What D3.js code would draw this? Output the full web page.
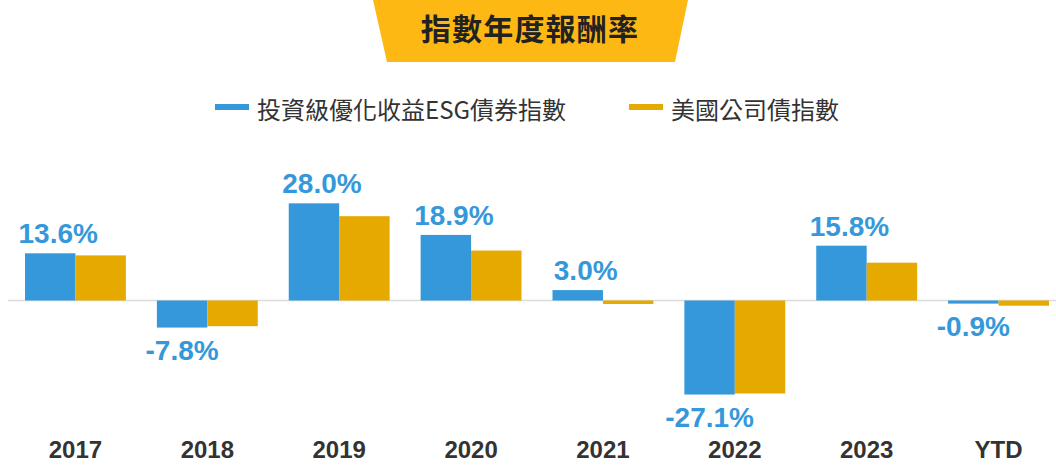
<!DOCTYPE html>
<html>
<head>
<meta charset="utf-8">
<script src="https://cdn.jsdelivr.net/npm/d3@7"></script>
<style>
  html, body { margin: 0; padding: 0; background: #fff; }
  svg { display: block; }
</style>
</head>
<body>
<svg id="chart" width="1056" height="467"></svg>
<script>
const title = "指數年度報酬率";
const categories = ["2017", "2018", "2019", "2020", "2021", "2022", "2023", "YTD"];
const seriesNames = ["投資級優化收益ESG債券指數", "美國公司債指數"];
const esgValues = [13.6, -7.8, 28.0, 18.9, 3.0, -27.1, 15.8, -0.9];
const corpValues = [13.0, -7.4, 24.3, 14.4, -1.0, -26.8, 10.9, -1.5];
const valueLabels = ["13.6%", "-7.8%", "28.0%", "18.9%", "3.0%", "-27.1%", "15.8%", "-0.9%"];
const colors = ["#3598DA", "#E5A900"];

const svg = d3.select("#chart");
const W = 1056, H = 467;

// Title banner (trapezoid)
const bannerTop = 0, bannerBottom = 62;
svg.append("path")
  .attr("d", `M373,${bannerTop} L688,${bannerTop} L675,${bannerBottom} L387,${bannerBottom} Z`)
  .attr("fill", "#FDB813");
svg.append("text")
  .attr("x", 530).attr("y", 27)
  .attr("text-anchor", "middle")
  .attr("dominant-baseline", "central")
  .attr("font-family", "'Noto Sans CJK TC', 'Noto Sans CJK SC', sans-serif")
  .attr("font-weight", 700)
  .attr("font-size", 30)
  .attr("letter-spacing", 1.2)
  .attr("fill", "#222")
  .text(title);

// Legend
const legendItems = [
  { name: seriesNames[0], color: colors[0], x: 215 },
  { name: seriesNames[1], color: colors[1], x: 629 }
];
const lg = svg.append("g");
legendItems.forEach(it => {
  lg.append("rect").attr("x", it.x).attr("y", 104).attr("width", 34).attr("height", 6).attr("fill", it.color);
  lg.append("text")
    .attr("x", it.x + 42).attr("y", 108)
    .attr("dominant-baseline", "central")
    .attr("font-family", "'Noto Sans CJK TC', 'Noto Sans CJK SC', sans-serif")
    .attr("font-size", 24)
    .attr("fill", "#333")
    .text(it.name);
});

// Scales
const x0 = d3.scaleBand().domain(categories).range([25, 1049]).paddingInner(0.235).paddingOuter(0);
const x1 = d3.scaleBand().domain([0, 1]).range([0, x0.bandwidth()]).padding(0);
const y = d3.scaleLinear().domain([-30, 30]).range([404.6, 196.4]);

// Zero line
svg.append("line")
  .attr("x1", 8).attr("x2", W)
  .attr("y1", y(0)).attr("y2", y(0))
  .attr("stroke", "#dcdcdc").attr("stroke-width", 1.5);

// Bars
const data = categories.map((c, i) => ({ cat: c, vals: [esgValues[i], corpValues[i]], label: valueLabels[i] }));
const groups = svg.append("g").selectAll("g").data(data).join("g")
  .attr("transform", d => `translate(${x0(d.cat)},0)`);
groups.selectAll("rect").data(d => d.vals.map((v, k) => ({ v, k }))).join("rect")
  .attr("x", d => x1(d.k))
  .attr("width", x1.bandwidth())
  .attr("y", d => y(Math.max(0, d.v)))
  .attr("height", d => Math.abs(y(d.v) - y(0)))
  .attr("fill", d => colors[d.k]);

// Value labels (ESG series)
groups.append("text")
  .attr("x", d => x1(0) + x1.bandwidth() / 2 + (d.vals[0] >= 0 ? 8 : 0))
  .attr("y", d => d.vals[0] >= 0 ? y(d.vals[0]) - 10 : y(d.vals[0]) + 32)
  .attr("text-anchor", "middle")
  .attr("font-family", "'Liberation Sans', Arial, sans-serif")
  .attr("font-weight", 700)
  .attr("font-size", 28)
  .attr("fill", colors[0])
  .text(d => d.label);

// X axis
const xAxis = d3.axisBottom(x0).tickSize(0).tickPadding(0);
const ax = svg.append("g").attr("transform", `translate(0,441)`).call(xAxis);
ax.select(".domain").remove();
ax.selectAll("text")
  .attr("dy", "0.71em")
  .attr("font-family", "'Liberation Sans', Arial, sans-serif")
  .attr("font-weight", 700)
  .attr("font-size", 24)
  .attr("fill", "#333");
</script>
</body>
</html>
